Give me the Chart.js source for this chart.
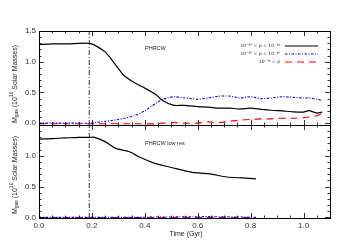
<!DOCTYPE html>
<html>
<head>
<meta charset="utf-8">
<script src="https://cdn.jsdelivr.net/npm/chart.js@4"></script>
<style>
html, body { margin: 0; padding: 0; background: #fff; }
#wrap { position: relative; width: 350px; height: 250px; }
canvas { position: absolute; left: 0; }
#topChart { top: 0; }
#botChart { top: 125px; }
</style>
</head>
<body>
<div id="wrap">
    <canvas id="topChart" width="350" height="126" style="width:350px;height:126px"></canvas>
    <canvas id="botChart" width="350" height="125" style="width:350px;height:125px"></canvas>
</div>
<script>
// Data
const splitTime = 0.19;

const timeTop = [0, 0.05, 0.10, 0.15, 0.19, 0.21, 0.25, 0.27, 0.30, 0.32, 0.36, 0.40, 0.44, 0.47, 0.51,
    0.55, 0.60, 0.64, 0.68, 0.72, 0.76, 0.80, 0.84, 0.88, 0.92, 0.96, 1.00, 1.02, 1.05, 1.07];
const denseTop = [1.28, 1.29, 1.29, 1.30, 1.30, 1.27, 1.16, 1.06, 0.89, 0.78, 0.66, 0.57, 0.47, 0.36, 0.29,
    0.29, 0.27, 0.26, 0.245, 0.245, 0.23, 0.245, 0.225, 0.21, 0.20, 0.185, 0.18, 0.205, 0.165, 0.18];
const diffuseTop = [0, 0, 0, 0, 0, 0.01, 0.03, 0.04, 0.06, 0.077, 0.12, 0.20, 0.32, 0.39, 0.43,
    0.41, 0.39, 0.41, 0.44, 0.44, 0.41, 0.43, 0.40, 0.41, 0.43, 0.42, 0.41, 0.41, 0.39, 0.37];
const coreTop = [-0.01, -0.01, -0.01, -0.01, -0.01, -0.01, -0.01, -0.01, -0.01, -0.01, -0.01, -0.01, -0.01, 0, 0.01,
    0, 0, 0.02, 0.01, 0.03, 0.05, 0.06, 0.07, 0.07, 0.08, 0.08, 0.09, 0.10, 0.12, 0.16];

const timeBot = [0, 0.05, 0.10, 0.15, 0.19, 0.21, 0.25, 0.29, 0.34, 0.38, 0.43, 0.48, 0.53, 0.58,
    0.64, 0.71, 0.77, 0.82];
const denseBot = [1.27, 1.28, 1.29, 1.30, 1.30, 1.30, 1.23, 1.12, 1.07, 0.98, 0.89, 0.83, 0.78, 0.73,
    0.71, 0.656, 0.64, 0.625];
const diffuseBot = [0, 0, 0, 0, 0, 0, 0, 0, 0, 0, 0.005, 0.005, 0.01, 0.01,
    0.012, 0.008, 0.005, 0];
const coreBot = [-0.005, -0.005, -0.005, -0.005, -0.005, -0.005, -0.005, -0.005, -0.005, -0.005, -0.005, -0.005, -0.005, -0.005,
    -0.005, -0.005, -0.005, -0.005];

const xTicks = [0, 0.2, 0.4, 0.6, 0.8, 1.0];
const yTicksTop = [0, 0.5, 1.0, 1.5];
const yTicksBot = [0, 0.5, 1.0];
const seriesLabels = ['10\u207B\u00B2\u2076 < \u03C1 < 10\u207B\u00B2\u2074',
    '10\u207B\u00B2\u2078 < \u03C1 < 10\u207B\u00B2\u2076',
    '10\u207B\u00B2\u2074 < \u03C1'];

const FONT = '"Liberation Sans", Arial, sans-serif';
const styles = [
    { color: '#000000', dash: [], width: 1.2 },
    { color: '#0000ff', dash: [2.5, 1.5, 1, 1.5], width: 1.1 },
    { color: '#ff0000', dash: [7, 5], width: 1.2 }
];

function toPoints(xs, ys) {
    return xs.map((x, i) => ({ x: x, y: ys[i] }));
}

function makeDatasets(times, series, yMin, yMax) {
    const sets = series.map((vals, i) => ({
        data: toPoints(times, vals),
        borderColor: styles[i].color,
        borderDash: styles[i].dash,
        borderWidth: styles[i].width,
        pointRadius: 0,
        tension: 0.2,
        fill: false
    }));
    // dash-dot marker of the split time
    sets.push({
        data: [{ x: splitTime, y: yMin }, { x: splitTime, y: yMax }],
        borderColor: '#000',
        borderDash: [5, 2, 1, 2],
        borderWidth: 0.8,
        pointRadius: 0
    });
    return sets;
}

// frame, inward ticks, tick labels and annotations
function framePlugin(opts) {
    return {
        id: 'frame',
        afterDraw(chart) {
            const ctx = chart.ctx;
            const a = chart.chartArea;
            const xs = chart.scales.x, ys = chart.scales.y;
            ctx.save();
            ctx.strokeStyle = '#000';
            ctx.lineWidth = 1;
            ctx.setLineDash([]);
            ctx.strokeRect(Math.round(a.left) + 0.5, Math.round(a.top) + 0.5,
                Math.round(a.right - a.left), Math.round(a.bottom - a.top));
            ctx.lineWidth = 0.8;
            ctx.beginPath();
            for (let i = 0; i <= 22; i++) {
                const v = i * 0.05;
                const px = Math.round(xs.getPixelForValue(v)) + 0.5;
                const len = (i % 4 === 0) ? 5 : 2.5;
                ctx.moveTo(px, a.bottom); ctx.lineTo(px, a.bottom - len);
                ctx.moveTo(px, a.top); ctx.lineTo(px, a.top + len);
            }
            for (let i = 0; i <= 15; i++) {
                const v = i * 0.1;
                const py = Math.round(ys.getPixelForValue(v)) + 0.5;
                const len = (i % 5 === 0) ? 5 : 2.5;
                ctx.moveTo(a.left, py); ctx.lineTo(a.left + len, py);
                ctx.moveTo(a.right, py); ctx.lineTo(a.right - len, py);
            }
            ctx.stroke();

            // tick labels
            ctx.fillStyle = '#333';
            ctx.font = '8px ' + FONT;
            ctx.textAlign = 'right';
            ctx.textBaseline = 'middle';
            opts.yTicks.forEach(v => {
                ctx.fillText(v.toFixed(1), a.left - 3, ys.getPixelForValue(v));
            });
            if (opts.xLabels) {
                ctx.textAlign = 'center';
                ctx.textBaseline = 'top';
                xTicks.forEach(v => {
                    ctx.fillText(v.toFixed(1), xs.getPixelForValue(v), a.bottom + 4);
                });
            }

            // y title with subscript / superscript
            ctx.fillStyle = '#222';
            ctx.translate(opts.yTitleX, opts.yTitleY);
            ctx.rotate(-Math.PI / 2);
            const parts = [
                { t: 'M', s: 7, dy: 0 },
                { t: 'gas', s: 5, dy: 2 },
                { t: ' (10', s: 7, dy: 0 },
                { t: '10', s: 5, dy: -3 },
                { t: ' Solar Masses)', s: 7, dy: 0 }
            ];
            let total = 0;
            parts.forEach(p => { ctx.font = p.s + 'px ' + FONT; total += ctx.measureText(p.t).width; });
            let cx = -total / 2;
            ctx.textAlign = 'left';
            ctx.textBaseline = 'middle';
            parts.forEach(p => {
                ctx.font = p.s + 'px ' + FONT;
                ctx.fillText(p.t, cx, p.dy);
                cx += ctx.measureText(p.t).width;
            });
            ctx.restore();

            ctx.save();
            ctx.fillStyle = '#222';
            ctx.font = '5.5px ' + FONT;
            ctx.textBaseline = 'middle';
            ctx.fillText(opts.label, opts.labelX, opts.labelY);

            if (opts.legend) {
                seriesLabels.forEach((txt, i) => {
                    const y = opts.legendY[i];
                    ctx.font = '4.5px "DejaVu Sans", sans-serif';
                    ctx.textAlign = 'right';
                    ctx.fillStyle = '#222';
                    ctx.fillText(txt, 280, y);
                    ctx.beginPath();
                    ctx.strokeStyle = styles[i].color;
                    ctx.lineWidth = styles[i].width;
                    ctx.setLineDash(styles[i].dash);
                    ctx.moveTo(285, y);
                    ctx.lineTo(318, y);
                    ctx.stroke();
                });
            }
            if (opts.xTitle) {
                ctx.setLineDash([]);
                ctx.font = '7px ' + FONT;
                ctx.textAlign = 'center';
                ctx.fillStyle = '#222';
                ctx.fillText(opts.xTitle, 186, opts.xTitleY);
            }
            ctx.restore();
        }
    };
}

function makeChart(id, cfg) {
    const ctx = document.getElementById(id).getContext('2d');
    return new Chart(ctx, {
        type: 'line',
        data: { datasets: makeDatasets(cfg.times, cfg.series, cfg.yMin, cfg.yMax) },
        options: {
            responsive: false,
            animation: false,
            layout: { padding: cfg.padding },
            plugins: { legend: { display: false }, tooltip: { enabled: false } },
            scales: {
                x: { type: 'linear', min: 0, max: 1.1, display: false },
                y: { min: cfg.yMin, max: cfg.yMax, display: false }
            }
        },
        plugins: [framePlugin(cfg.annot)]
    });
}

makeChart('topChart', {
    times: timeTop,
    series: [denseTop, diffuseTop, coreTop],
    yMin: -0.03, yMax: 1.5,
    padding: { left: 39, right: 20, top: 31, bottom: 1 },
    annot: { yTicks: yTicksTop, xLabels: false, yTitleX: 15, yTitleY: 84,
        label: 'PHRCW', labelX: 145, labelY: 48, legend: true, legendY: [46, 54, 62] }
});

makeChart('botChart', {
    times: timeBot,
    series: [denseBot, diffuseBot, coreBot],
    yMin: -0.01, yMax: 1.5,
    padding: { left: 39, right: 20, top: 0, bottom: 32 },
    annot: { yTicks: yTicksBot, xLabels: true, yTitleX: 15, yTitleY: 50,
        label: 'PHRCW low res', labelX: 145, labelY: 18, legend: false,
        xTitle: 'Time (Gyr)', xTitleY: 109 }
});
</script>
</body>
</html>
